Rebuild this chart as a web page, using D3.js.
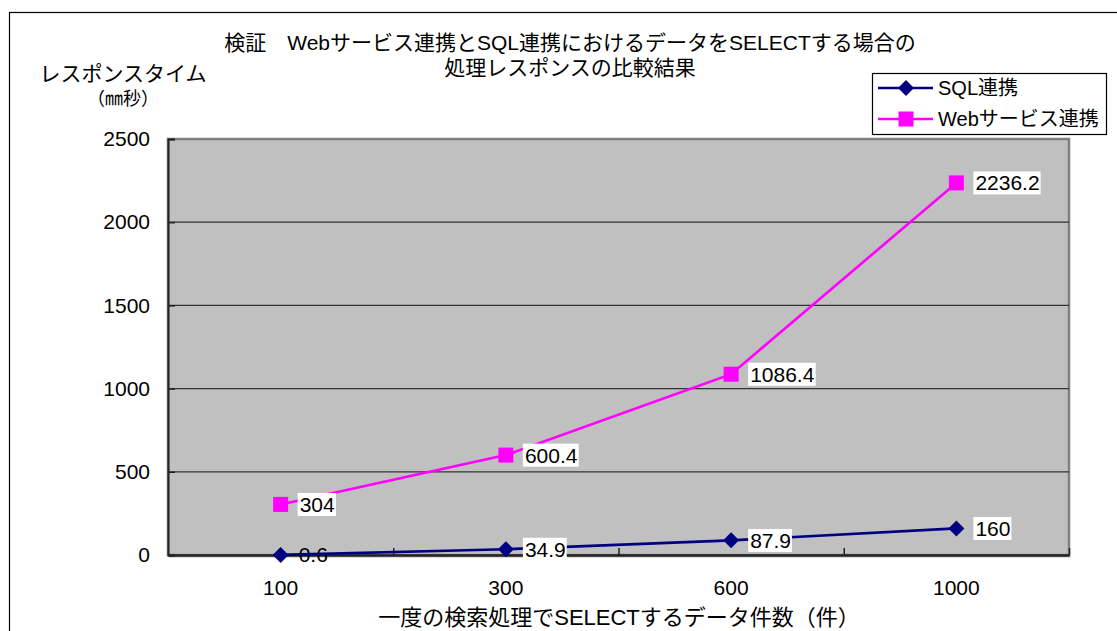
<!DOCTYPE html>
<html>
<head>
<meta charset="utf-8">
<script src="https://cdn.jsdelivr.net/npm/d3@7/dist/d3.min.js"></script>
<style>
  html, body { margin: 0; padding: 0; background: #fff; }
  svg { display: block; }
  text { font-family: "Liberation Sans", Arial, "Noto Sans CJK JP", sans-serif; fill: #000; }
</style>
</head>
<body>
<svg id="chart" width="1117" height="631"></svg>
<script>
// Data
const categories = ["100", "300", "600", "1000"];
const sqlValues = [0.6, 34.9, 87.9, 160];
const webValues = [304, 600.4, 1086.4, 2236.2];
const yTicks = [0, 500, 1000, 1500, 2000, 2500];
const gridValues = [500, 1000, 1500, 2000];
const seriesNames = ["SQL連携", "Webサービス連携"];
const titleLines = ["検証　Webサービス連携とSQL連携におけるデータをSELECTする場合の", "処理レスポンスの比較結果"];
const yTitleLines = ["レスポンスタイム", "（㎜秒）"];
const xTitle = "一度の検索処理でSELECTするデータ件数（件）";

const svg = d3.select("#chart");
const plot = { left: 168, right: 1069, top: 139, bottom: 555 };
const NAVY = "#000080", MAGENTA = "#FF00FF";

// Outer chart frame
svg.append("rect")
  .attr("x", 9.5).attr("y", 12.5)
  .attr("width", 1200).attr("height", 700)
  .attr("fill", "#fff").attr("stroke", "#000").attr("stroke-width", 1.2);

// Scales
const x = d3.scaleBand().domain(categories).range([plot.left, plot.right]);
const cx = c => x(c) + x.bandwidth() / 2;
const y = d3.scaleLinear().domain([0, 2500]).range([plot.bottom, plot.top]);
const xIdx = d3.scaleLinear().domain([0, categories.length]).range([plot.left, plot.right]);

// Plot background with a soft shadow below
svg.append("rect")
  .attr("x", plot.left + 1).attr("y", plot.bottom)
  .attr("width", plot.right - plot.left + 1).attr("height", 3)
  .attr("fill", "#d8d8d8");
svg.append("rect")
  .attr("x", plot.left).attr("y", plot.top)
  .attr("width", plot.right - plot.left).attr("height", plot.bottom - plot.top)
  .attr("fill", "#C0C0C0")
  .attr("stroke", "#808080").attr("stroke-width", 2.5);

// Gridlines
svg.append("g")
  .selectAll("line").data(gridValues).join("line")
  .attr("x1", plot.left).attr("x2", plot.right)
  .attr("y1", d => y(d)).attr("y2", d => y(d))
  .attr("stroke", "#333").attr("stroke-width", 1.2);

// Y axis
const yAxis = svg.append("g")
  .attr("transform", `translate(${plot.left},0)`)
  .call(d3.axisLeft(y).tickValues(yTicks).tickSize(-7).tickPadding(18).tickFormat(d3.format("d")));
yAxis.select(".domain").attr("stroke", "#222").attr("stroke-width", 2);
yAxis.selectAll(".tick line").attr("stroke", "#222").attr("stroke-width", 1.5);
yAxis.selectAll(".tick text")
  .style("font-size", "21px").style("font-family", "'Liberation Sans', Arial, sans-serif")
  .attr("fill", "#000");

// X axis: labels at category centres, ticks at category boundaries
const xAxis = svg.append("g")
  .attr("transform", `translate(0,${plot.bottom})`)
  .call(d3.axisBottom(x).tickSize(0).tickPadding(25));
xAxis.select(".domain").attr("stroke", "#222").attr("stroke-width", 2.5);
xAxis.selectAll(".tick text")
  .style("font-size", "21px").style("font-family", "'Liberation Sans', Arial, sans-serif")
  .attr("fill", "#000");
const xTicks = svg.append("g")
  .attr("transform", `translate(0,${plot.bottom})`)
  .call(d3.axisBottom(xIdx).tickValues([1, 2, 3, 4]).tickSize(-7).tickFormat(""));
xTicks.select(".domain").remove();
xTicks.selectAll(".tick line").attr("stroke", "#222").attr("stroke-width", 1.5);

// Series
const series = [
  { name: seriesNames[0], values: sqlValues, color: NAVY, marker: "diamond" },
  { name: seriesNames[1], values: webValues, color: MAGENTA, marker: "square" }
];
const line = d3.line().x((d, i) => cx(categories[i])).y(d => y(d));

function drawMarker(g, type, color, px, py) {
  if (type === "diamond") {
    g.append("path")
      .attr("d", `M${px},${py - 8}L${px + 8},${py}L${px},${py + 8}L${px - 8},${py}Z`)
      .attr("fill", color);
  } else {
    g.append("rect")
      .attr("x", px - 7.5).attr("y", py - 7.5)
      .attr("width", 15).attr("height", 15)
      .attr("fill", color);
  }
}

// The near-zero SQL label sits on the axis without a backing box
const bareLabels = svg.append("g");
bareLabels.append("text")
  .attr("x", cx(categories[0]) + 18).attr("y", y(sqlValues[0]))
  .attr("dy", "0.36em")
  .style("font-size", "21px")
  .text(String(sqlValues[0]));

const seriesG = svg.append("g");
series.forEach(s => {
  seriesG.append("path")
    .datum(s.values)
    .attr("d", line)
    .attr("fill", "none")
    .attr("stroke", s.color)
    .attr("stroke-width", 2.6);
});
series.forEach(s => {
  s.values.forEach((v, i) => drawMarker(seriesG, s.marker, s.color, cx(categories[i]), y(v)));
});

// Value labels with white boxes
const labelsG = svg.append("g");
series.forEach((s, si) => {
  s.values.forEach((v, i) => {
    if (si === 0 && i === 0) return;
    const g = labelsG.append("g");
    const t = g.append("text")
      .attr("x", cx(categories[i]) + 19).attr("y", y(v))
      .attr("dy", "0.36em")
      .style("font-size", "21px")
      .text(String(v));
    const bb = t.node().getBBox();
    g.insert("rect", "text")
      .attr("x", bb.x - 2).attr("y", bb.y)
      .attr("width", bb.width + 3).attr("height", bb.height)
      .attr("fill", "#fff");
  });
});

// Title
svg.append("g").selectAll("text").data(titleLines).join("text")
  .attr("x", 570).attr("y", (d, i) => 50 + i * 25)
  .attr("text-anchor", "middle")
  .style("font-size", "21px")
  .text(d => d);

// Y axis title
svg.append("g").selectAll("text").data(yTitleLines).join("text")
  .attr("x", 123).attr("y", (d, i) => 81 + i * 24)
  .attr("text-anchor", "middle")
  .style("font-size", (d, i) => i === 0 ? "21px" : "18px")
  .text(d => d);

// X axis title
svg.append("text")
  .attr("x", 619).attr("y", 625)
  .attr("text-anchor", "middle")
  .style("font-size", "22px")
  .text(xTitle);

// Legend
const legend = svg.append("g");
legend.append("rect")
  .attr("x", 872.5).attr("y", 73.5).attr("width", 234).attr("height", 61)
  .attr("fill", "#fff").attr("stroke", "#000").attr("stroke-width", 1.2);
series.forEach((s, i) => {
  const ly = 88 + i * 31;
  legend.append("line")
    .attr("x1", 878).attr("x2", 933).attr("y1", ly).attr("y2", ly)
    .attr("stroke", s.color).attr("stroke-width", 2.6);
  drawMarker(legend, s.marker, s.color, 906, ly);
  legend.append("text")
    .attr("x", 938).attr("y", ly).attr("dy", "0.36em")
    .style("font-size", "20px")
    .text(s.name);
});
</script>
</body>
</html>
